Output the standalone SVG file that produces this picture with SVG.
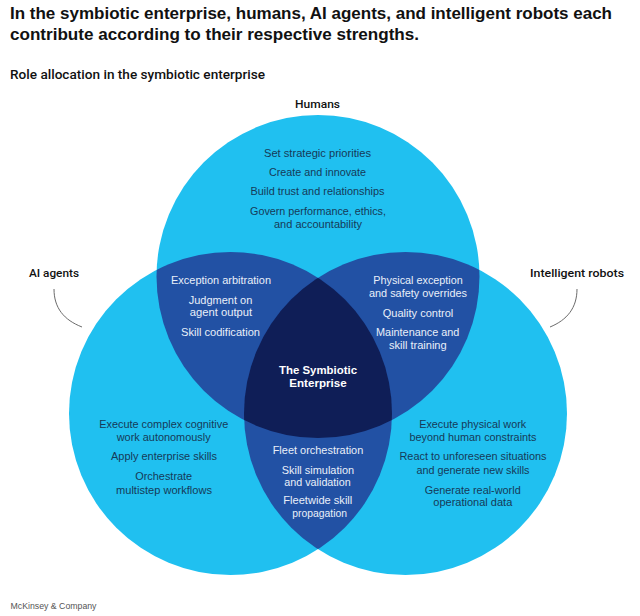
<svg xmlns="http://www.w3.org/2000/svg" width="640" height="616" viewBox="0 0 640 616">
  <style>
    .title { font-family: "Liberation Sans", Arial, sans-serif; font-weight: bold; font-size: 17px; fill: #111111; }
    .sub { font-family: Roboto, "Liberation Sans", sans-serif; font-weight: 500; font-size: 12px; fill: #111111; }
    .lab { font-family: Roboto, "Liberation Sans", sans-serif; font-weight: 500; font-size: 11.5px; fill: #111111; text-anchor: middle; }
    .t { font-family: "Liberation Sans", Arial, sans-serif; font-size: 11px; text-anchor: middle; }
    .dk { fill: #163a58; }
    .lt { fill: #e9eff9; }
    .ctr { font-family: "Liberation Sans", Arial, sans-serif; font-weight: bold; font-size: 11.5px; fill: #ffffff; text-anchor: middle; }
    .foot { font-family: "Liberation Sans", Arial, sans-serif; font-size: 9px; fill: #555555; }
    .light { fill: #20c0f0; }
    .mid { fill: #2251a4; }
    .dark { fill: #0f1e57; }
    .leader { fill: none; stroke: #6b6b6b; stroke-width: 1; }
  </style>
  <defs>
    <clipPath id="cT"><circle cx="318" cy="276.5" r="161.5"/></clipPath>
    <clipPath id="cL"><circle cx="230.5" cy="413.5" r="161.5"/></clipPath>
  </defs>
  <rect width="640" height="616" fill="#ffffff"/>

  <g id="header">
    <text class="title" x="10" y="18.5" textLength="602" lengthAdjust="spacingAndGlyphs">In the symbiotic enterprise, humans, AI agents, and intelligent robots each</text>
    <text class="title" x="10" y="39.5" textLength="409" lengthAdjust="spacingAndGlyphs">contribute according to their respective strengths.</text>
    <text class="sub" x="10" y="79" textLength="255" lengthAdjust="spacingAndGlyphs">Role allocation in the symbiotic enterprise</text>
  </g>

  <g id="circles">
    <circle id="circle-humans" class="light" cx="318" cy="276.5" r="161.5"/>
    <circle id="circle-ai" class="light" cx="230.5" cy="413.5" r="161.5"/>
    <circle id="circle-robots" class="light" cx="405.5" cy="413.5" r="161.5"/>
    <g clip-path="url(#cT)"><circle class="mid" cx="230.5" cy="413.5" r="161.5"/></g>
    <g clip-path="url(#cT)"><circle class="mid" cx="405.5" cy="413.5" r="161.5"/></g>
    <g clip-path="url(#cL)"><circle class="mid" cx="405.5" cy="413.5" r="161.5"/></g>
    <g clip-path="url(#cT)"><g clip-path="url(#cL)"><circle class="dark" cx="405.5" cy="413.5" r="161.5"/></g></g>
  </g>

  <g id="connectors">
    <path class="leader" d="M54 289 C54 308 64 320 82 327"/>
    <path class="leader" d="M577 289 C577 308 567 320 550 327"/>
  </g>

  <g id="humans">
    <text class="lab" x="317.5" y="108" textLength="45" lengthAdjust="spacingAndGlyphs">Humans</text>
    <text class="t dk" x="317.5" y="157" textLength="107" lengthAdjust="spacingAndGlyphs">Set strategic priorities</text>
    <text class="t dk" x="317.5" y="175.5" textLength="97" lengthAdjust="spacingAndGlyphs">Create and innovate</text>
    <text class="t dk" x="317.5" y="195" textLength="134" lengthAdjust="spacingAndGlyphs">Build trust and relationships</text>
    <text class="t dk" x="318" y="214.5" textLength="136" lengthAdjust="spacingAndGlyphs">Govern performance, ethics,</text>
    <text class="t dk" x="318" y="228" textLength="88" lengthAdjust="spacingAndGlyphs">and accountability</text>
  </g>

  <g id="ai-agents">
    <text class="lab" x="54" y="277" textLength="50" lengthAdjust="spacingAndGlyphs">AI agents</text>
    <text class="t dk" x="163.7" y="428" textLength="129" lengthAdjust="spacingAndGlyphs">Execute complex cognitive</text>
    <text class="t dk" x="163.7" y="441" textLength="94" lengthAdjust="spacingAndGlyphs">work autonomously</text>
    <text class="t dk" x="164" y="460" textLength="106" lengthAdjust="spacingAndGlyphs">Apply enterprise skills</text>
    <text class="t dk" x="163.7" y="480" textLength="57" lengthAdjust="spacingAndGlyphs">Orchestrate</text>
    <text class="t dk" x="164" y="493.5" textLength="96" lengthAdjust="spacingAndGlyphs">multistep workflows</text>
  </g>

  <g id="robots">
    <text class="lab" x="577" y="277" textLength="94" lengthAdjust="spacingAndGlyphs">Intelligent robots</text>
    <text class="t dk" x="472.7" y="428" textLength="107" lengthAdjust="spacingAndGlyphs">Execute physical work</text>
    <text class="t dk" x="473" y="441" textLength="127" lengthAdjust="spacingAndGlyphs">beyond human constraints</text>
    <text class="t dk" x="473" y="460" textLength="147" lengthAdjust="spacingAndGlyphs">React to unforeseen situations</text>
    <text class="t dk" x="473" y="473.5" textLength="113" lengthAdjust="spacingAndGlyphs">and generate new skills</text>
    <text class="t dk" x="472.7" y="493.5" textLength="96" lengthAdjust="spacingAndGlyphs">Generate real-world</text>
    <text class="t dk" x="472.8" y="506" textLength="79" lengthAdjust="spacingAndGlyphs">operational data</text>
  </g>

  <g id="humans-ai">
    <text class="t lt" x="221" y="284" textLength="100" lengthAdjust="spacingAndGlyphs">Exception arbitration</text>
    <text class="t lt" x="220.5" y="303.5" textLength="63.6" lengthAdjust="spacingAndGlyphs">Judgment on</text>
    <text class="t lt" x="221" y="315.5" textLength="62.3" lengthAdjust="spacingAndGlyphs">agent output</text>
    <text class="t lt" x="220.5" y="335.5" textLength="79" lengthAdjust="spacingAndGlyphs">Skill codification</text>
  </g>

  <g id="humans-robots">
    <text class="t lt" x="418" y="284" textLength="89.4" lengthAdjust="spacingAndGlyphs">Physical exception</text>
    <text class="t lt" x="418" y="297" textLength="98" lengthAdjust="spacingAndGlyphs">and safety overrides</text>
    <text class="t lt" x="418" y="317" textLength="70.6" lengthAdjust="spacingAndGlyphs">Quality control</text>
    <text class="t lt" x="417.7" y="336" textLength="83.3" lengthAdjust="spacingAndGlyphs">Maintenance and</text>
    <text class="t lt" x="417.8" y="349" textLength="57.7" lengthAdjust="spacingAndGlyphs">skill training</text>
  </g>

  <g id="ai-robots">
    <text class="t lt" x="318" y="453.5" textLength="90.6" lengthAdjust="spacingAndGlyphs">Fleet orchestration</text>
    <text class="t lt" x="317.9" y="473.5" textLength="72.3" lengthAdjust="spacingAndGlyphs">Skill simulation</text>
    <text class="t lt" x="317.5" y="486" textLength="66.4" lengthAdjust="spacingAndGlyphs">and validation</text>
    <text class="t lt" x="317.8" y="503.5" textLength="69" lengthAdjust="spacingAndGlyphs">Fleetwide skill</text>
    <text class="t lt" x="319.7" y="517" textLength="54.7" lengthAdjust="spacingAndGlyphs">propagation</text>
  </g>

  <g id="symbiotic-enterprise">
    <text class="ctr" x="318" y="373.5" textLength="78" lengthAdjust="spacingAndGlyphs">The Symbiotic</text>
    <text class="ctr" x="318" y="387" textLength="57.4" lengthAdjust="spacingAndGlyphs">Enterprise</text>
  </g>

  <g id="footer">
    <text class="foot" x="10.5" y="609" textLength="86" lengthAdjust="spacingAndGlyphs">McKinsey &amp; Company</text>
  </g>
</svg>
